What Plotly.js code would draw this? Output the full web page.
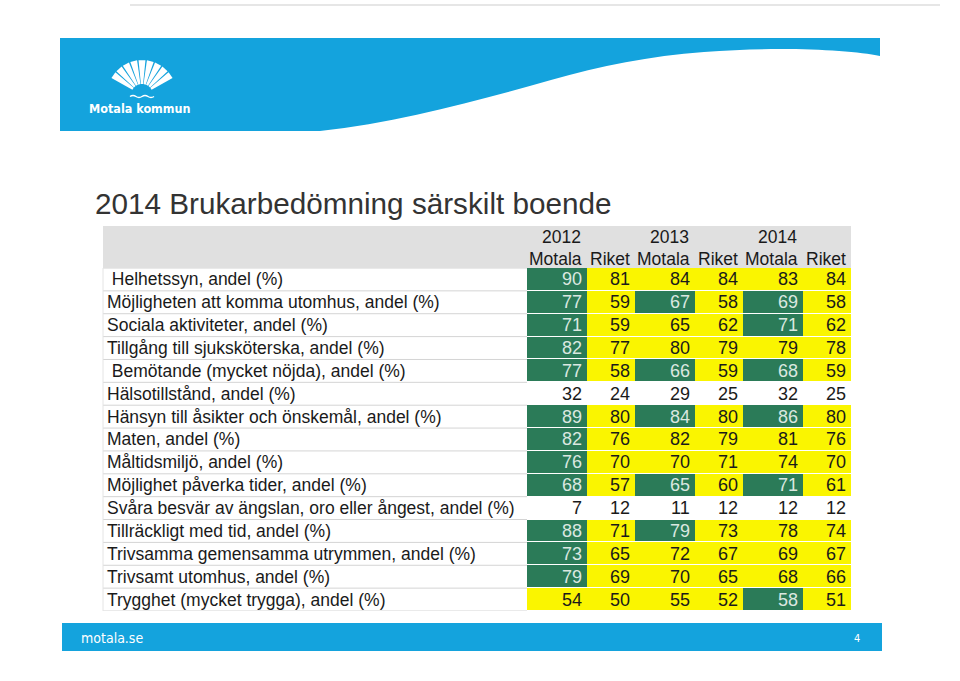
<!DOCTYPE html>
<html><head><meta charset="utf-8">
<script src="https://cdn.plot.ly/plotly-3.0.1.min.js"></script>
<style>html,body{margin:0;padding:0;background:#fff}</style>
</head><body><div id="chart" style="width:960px;height:681px"></div>
<script>
// ---------- DATA ----------
const chartTitle = "2014 Brukarbedömning särskilt boende";
const years = ["2012", "2013", "2014"];
const colHeaders = ["Motala", "Riket", "Motala", "Riket", "Motala", "Riket"];
const labels = [
  " Helhetssyn, andel (%)",
  "Möjligheten att komma utomhus, andel (%)",
  "Sociala aktiviteter, andel (%)",
  "Tillgång till sjuksköterska, andel (%)",
  " Bemötande (mycket nöjda), andel (%)",
  "Hälsotillstånd, andel (%)",
  "Hänsyn till åsikter och önskemål, andel (%)",
  "Maten, andel (%)",
  "Måltidsmiljö, andel (%)",
  "Möjlighet påverka tider, andel (%)",
  "Svåra besvär av ängslan, oro eller ångest, andel (%)",
  "Tillräckligt med tid, andel (%)",
  "Trivsamma gemensamma utrymmen, andel (%)",
  "Trivsamt utomhus, andel (%)",
  "Trygghet (mycket trygga), andel (%)"
];
const motala2012 = [90, 77, 71, 82, 77, 32, 89, 82, 76, 68, 7, 88, 73, 79, 54];
const riket2012  = [81, 59, 59, 77, 58, 24, 80, 76, 70, 57, 12, 71, 65, 69, 50];
const motala2013 = [84, 67, 65, 80, 66, 29, 84, 82, 70, 65, 11, 79, 72, 70, 55];
const riket2013  = [84, 58, 62, 79, 59, 25, 80, 79, 71, 60, 12, 73, 67, 65, 52];
const motala2014 = [83, 69, 71, 79, 68, 32, 86, 81, 74, 71, 12, 78, 69, 68, 58];
const riket2014  = [84, 58, 62, 78, 59, 25, 80, 76, 70, 61, 12, 74, 67, 66, 51];
// cell status: G = green (better), Y = yellow, W = no colour
const statusMotala2012 = ["G","G","G","G","G","W","G","G","G","G","W","G","G","G","Y"];
const statusRiket2012  = ["Y","Y","Y","Y","Y","W","Y","Y","Y","Y","W","Y","Y","Y","Y"];
const statusMotala2013 = ["Y","G","Y","Y","G","W","G","Y","Y","G","W","G","Y","Y","Y"];
const statusRiket2013  = ["Y","Y","Y","Y","Y","W","Y","Y","Y","Y","W","Y","Y","Y","Y"];
const statusMotala2014 = ["Y","G","G","Y","G","W","G","Y","Y","G","W","Y","Y","Y","G"];
const statusRiket2014  = ["Y","Y","Y","Y","Y","W","Y","Y","Y","Y","W","Y","Y","Y","Y"];

// ---------- STYLE ----------
const GREEN = "#2b7b58", YELLOW = "#faf500", BLUE = "#14a3dd";
const FONT = "Liberation Sans, Arial, sans-serif";
const NARROW = "Liberation Sans Narrow, Arial Narrow, DejaVu Sans Condensed, Liberation Sans, sans-serif";
const colWidths = [60, 48, 60, 48, 60, 48];
const W = 960, H = 681;
const tableTop = 268, tableBottom = 611, numLeft = 527, labelLeft = 103;

const cols = [motala2012, riket2012, motala2013, riket2013, motala2014, riket2014];
const stats = [statusMotala2012, statusRiket2012, statusMotala2013, statusRiket2013, statusMotala2014, statusRiket2014];
const code = {W: 0, Y: 1, G: 2};

const edges = [0];
colWidths.forEach(w => edges.push(edges[edges.length - 1] + w));
const totalW = edges[edges.length - 1];
const nRows = labels.length;
const rowIdx = labels.map((_, i) => i);

const z = rowIdx.map(r => stats.map(s => code[s[r]]));

const heat = {
  type: "heatmap", x: edges, y: rowIdx, z: z,
  zmin: 0, zmax: 2, showscale: false, hoverinfo: "skip",
  xgap: 0, ygap: 1,
  colorscale: [[0, "#ffffff"], [0.25, "#ffffff"], [0.25, YELLOW], [0.75, YELLOW], [0.75, GREEN], [1, GREEN]],
  xaxis: "x", yaxis: "y"
};
const dummy = {type: "scatter", x: [], y: [], xaxis: "x2", yaxis: "y2", hoverinfo: "skip", showlegend: false};

const px = v => v / W, py = v => 1 - v / H;
const annotations = [];
// title
annotations.push({xref: "paper", yref: "paper", x: px(93), y: py(203), xanchor: "left", yanchor: "middle",
  text: chartTitle, showarrow: false, font: {family: FONT, size: 29.7, color: "#333333"}});
// labels
labels.forEach((t, i) => annotations.push({xref: "paper", yref: "y", x: px(labelLeft + 2), y: i,
  xanchor: "left", yanchor: "middle", text: t.replace(/^ /, "\u00a0"), showarrow: false,
  font: {family: FONT, size: 17.5, color: "#1a1a1a"}}));
// numbers
cols.forEach((vals, c) => vals.forEach((v, r) => annotations.push({xref: "x", yref: "y", x: edges[c + 1], y: r,
  xanchor: "right", yanchor: "middle", xshift: -3, text: String(v), showarrow: false,
  font: {family: FONT, size: 18, color: stats[c][r] === "G" ? "#dbe8e0" : "#1a1a1a"}})));
// headers
const colRightPx = edges.map(e => numLeft + e);
colHeaders.forEach((h, c) => annotations.push({xref: "paper", yref: "paper", x: px(colRightPx[c + 1] - 3), y: py(259),
  xanchor: "right", yanchor: "middle", text: h, showarrow: false, font: {family: FONT, size: 17.5, color: "#1a1a1a"}}));
years.forEach((y, k) => annotations.push({xref: "paper", yref: "paper", x: px(colRightPx[2 * k + 1] - 4), y: py(237),
  xanchor: "right", yanchor: "middle", text: y, showarrow: false, font: {family: FONT, size: 17.5, color: "#1a1a1a"}}));
// logo text + footer text
annotations.push({xref: "paper", yref: "paper", x: px(140), y: py(108), xanchor: "center", yanchor: "middle",
  text: "<b>Motala kommun</b>", showarrow: false, font: {family: NARROW, size: 12.5, color: "#ffffff"}});
annotations.push({xref: "paper", yref: "paper", x: px(79), y: py(638), xanchor: "left", yanchor: "middle",
  text: "motala.se", showarrow: false, font: {family: NARROW, size: 14, color: "#ffffff"}});
annotations.push({xref: "paper", yref: "paper", x: px(857), y: py(638), xanchor: "center", yanchor: "middle",
  text: "4", showarrow: false, font: {family: NARROW, size: 11, color: "#ffffff"}});

// ---------- SHAPES (decoration) ----------
const shapes = [];
shapes.push({type: "line", xref: "x2", yref: "y2", x0: 130, x1: 940, y0: 5, y1: 5, line: {color: "#e6e6e6", width: 2}});
shapes.push({type: "path", xref: "x2", yref: "y2", fillcolor: BLUE, line: {width: 0},
  path: "M60,38 L880,38 L880,56 C850,50 780,46 704,52 C650,56 600,66 551,80 C480,100 400,122 320,131 L60,131 Z"});
// logo fan
const cx = 142, cy = 95, rIn = 11, rOut = 35, nRay = 9, a0 = 28, a1 = 152;
const step = (a1 - a0) / nRay, gap = 2.4;
for (let k = 0; k < nRay; k++) {
  const s = (a0 + k * step + gap / 2) * Math.PI / 180, e = (a0 + (k + 1) * step - gap / 2) * Math.PI / 180;
  const P = (r, a) => `${(cx + r * Math.cos(a)).toFixed(2)},${(cy - r * Math.sin(a)).toFixed(2)}`;
  shapes.push({type: "path", xref: "x2", yref: "y2", fillcolor: "#ffffff", line: {width: 0},
    path: `M${P(rIn, s)} L${P(rOut, s)} L${P(rOut, e)} L${P(rIn, e)} Z`});
}
shapes.push({type: "path", xref: "x2", yref: "y2", fillcolor: "#ffffff", line: {width: 0},
  path: `M${cx - 8},${cy - 1} A8,8 0 0 1 ${cx + 8},${cy - 1} Z`});
shapes.push({type: "path", xref: "x2", yref: "y2", line: {color: "#ffffff", width: 1.5},
  path: `M${cx - 12},${cy + 1.5} Q${cx - 9},${cy - 0.5} ${cx - 6},${cy + 1.5} Q${cx - 3},${cy + 3.5} ${cx},${cy + 1.5} Q${cx + 3},${cy - 0.5} ${cx + 6},${cy + 1.5} Q${cx + 9},${cy + 3.5} ${cx + 12},${cy + 1.5}`});
// header background
shapes.push({type: "rect", xref: "x2", yref: "y2", x0: labelLeft, x1: numLeft + totalW, y0: 226, y1: tableTop,
  fillcolor: "#e0e0e0", line: {width: 0}, layer: "below"});
// label column row lines
for (let i = 0; i <= nRows; i++) {
  shapes.push({type: "line", xref: "x2", yref: "y", x0: labelLeft, x1: numLeft, y0: i - 0.5, y1: i - 0.5,
    line: {color: "#d4d4d4", width: 1}});
}
shapes.push({type: "line", xref: "x2", yref: "y", x0: labelLeft, x1: labelLeft, y0: -0.5, y1: nRows - 0.5,
  line: {color: "#e4e4e4", width: 1}});
// footer bar
shapes.push({type: "rect", xref: "x2", yref: "y2", x0: 62, x1: 882, y0: 623, y1: 651, fillcolor: BLUE, line: {width: 0}});

const layout = {
  width: W, height: H, margin: {l: 0, r: 0, t: 0, b: 0},
  paper_bgcolor: "#ffffff", plot_bgcolor: "rgba(0,0,0,0)", showlegend: false,
  xaxis: {domain: [numLeft / W, (numLeft + totalW) / W], range: [0, totalW], visible: false, fixedrange: true, anchor: "y"},
  yaxis: {domain: [1 - tableBottom / H, 1 - tableTop / H], range: [nRows - 0.5, -0.5], visible: false, fixedrange: true, anchor: "x"},
  xaxis2: {domain: [0, 1], range: [0, W], visible: false, fixedrange: true, anchor: "y2"},
  yaxis2: {domain: [0, 1], range: [H, 0], visible: false, fixedrange: true, anchor: "x2"},
  shapes: shapes, annotations: annotations
};
Plotly.newPlot("chart", [heat, dummy], layout, {staticPlot: true, displayModeBar: false});
</script></body></html>
